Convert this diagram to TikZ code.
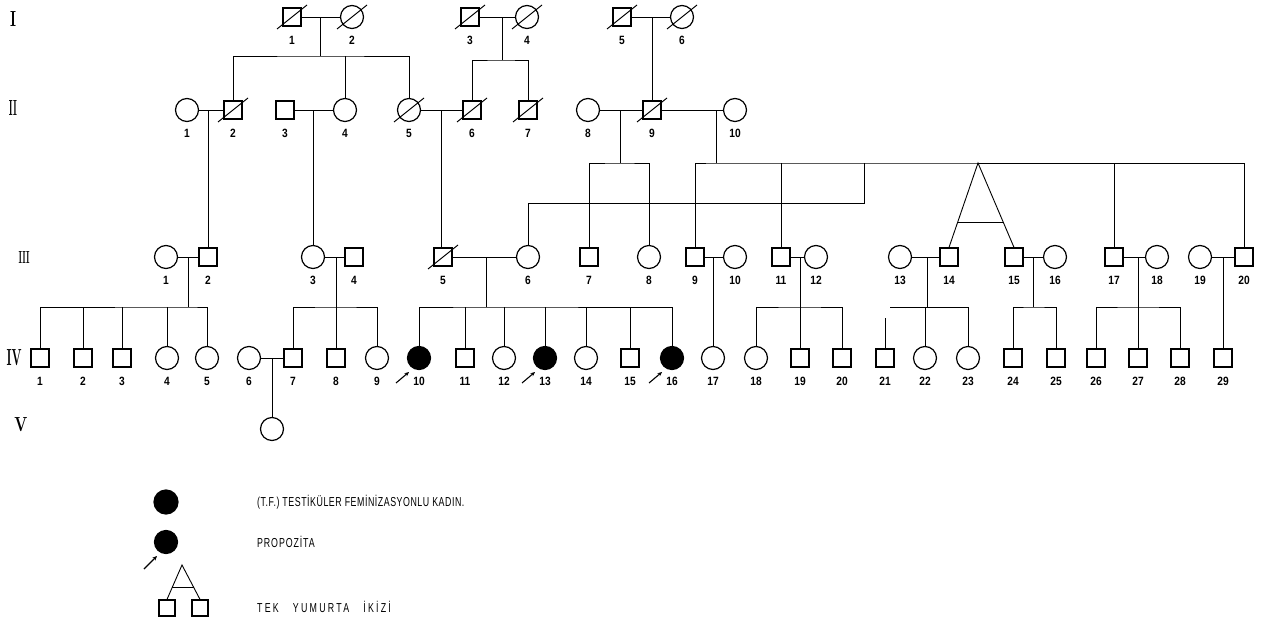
\documentclass[tikz,border=0pt]{standalone}
\usepackage{fontspec}
\setsansfont{Liberation Sans}
\newfontfamily\legfont{Liberation Sans}
\usetikzlibrary{calc,arrows.meta}
\newcommand\mkp[5]{\node[#2] (#1) at (#3,#4) {}; \node[num] (#1n) at (#3,#4+23) {\scalebox{0.85}[1]{#5}};}
\newcommand\mkd[1]{\draw[slash] ([shift={(-15,12)}]#1.center) -- ([shift={(15,-12)}]#1.center);}
\begin{document}
\begin{tikzpicture}[x=1pt,y=-1pt,
  sym/.style={draw,line width=1.2pt,inner sep=0pt},
  sq/.style={sym,rectangle,minimum size=18pt},
  ci/.style={sym,circle,minimum size=23pt},
  af/.style={ci,fill=black},
  num/.style={font=\sffamily\bfseries\fontsize{12}{13}\selectfont,inner sep=0pt},
  ln/.style={line width=0.9pt},
  slash/.style={line width=1pt},
  parr/.style={line width=1.1pt,-{Stealth[length=4.5pt,width=4pt]}},
  gen/.style={inner sep=0pt},
  leg/.style={font=\legfont\fontsize{13}{14}\selectfont,inner sep=0pt,anchor=west}]
\useasboundingbox (0,0) rectangle (1261,621);
% generation labels
\node[gen] (gI) at (13,19) {\resizebox{6pt}{15pt}{\textbf{I}}};
\node[gen] (gII) at (13,108) {\resizebox{8pt}{15pt}{\textbf{II}}};
\node[gen] (gIII) at (24,257) {\resizebox{11pt}{12pt}{\textbf{III}}};
\node[gen] (gIV) at (14,358) {\resizebox{15pt}{16pt}{\textbf{IV}}};
\node[gen] (gV) at (21,425) {\resizebox{13pt}{14pt}{\textbf{V}}};
% Generation I
\mkp{I1}{sq}{292}{17}{1}\mkd{I1}
\mkp{I2}{ci}{352}{17}{2}\mkd{I2}
\mkp{I3}{sq}{470}{17}{3}\mkd{I3}
\mkp{I4}{ci}{527}{17}{4}\mkd{I4}
\mkp{I5}{sq}{622}{17}{5}\mkd{I5}
\mkp{I6}{ci}{682}{17}{6}\mkd{I6}
% Generation II
\mkp{II1}{ci}{187}{110}{1}
\mkp{II2}{sq}{233}{110}{2}\mkd{II2}
\mkp{II3}{sq}{285}{110}{3}
\mkp{II4}{ci}{345}{110}{4}
\mkp{II5}{ci}{409}{110}{5}\mkd{II5}
\mkp{II6}{sq}{472}{110}{6}\mkd{II6}
\mkp{II7}{sq}{528}{110}{7}\mkd{II7}
\mkp{II8}{ci}{588}{110}{8}
\mkp{II9}{sq}{652}{110}{9}\mkd{II9}
\mkp{II10}{ci}{735}{110}{10}
% Generation III
\mkp{III1}{ci}{166}{257}{1}
\mkp{III2}{sq}{208}{257}{2}
\mkp{III3}{ci}{313}{257}{3}
\mkp{III4}{sq}{354}{257}{4}
\mkp{III5}{sq}{443}{257}{5}\mkd{III5}
\mkp{III6}{ci}{528}{257}{6}
\mkp{III7}{sq}{589}{257}{7}
\mkp{III8}{ci}{649}{257}{8}
\mkp{III9}{sq}{695}{257}{9}
\mkp{III10}{ci}{735}{257}{10}
\mkp{III11}{sq}{781}{257}{11}
\mkp{III12}{ci}{816}{257}{12}
\mkp{III13}{ci}{900}{257}{13}
\mkp{III14}{sq}{949}{257}{14}
\mkp{III15}{sq}{1014}{257}{15}
\mkp{III16}{ci}{1055}{257}{16}
\mkp{III17}{sq}{1114}{257}{17}
\mkp{III18}{ci}{1157}{257}{18}
\mkp{III19}{ci}{1200}{257}{19}
\mkp{III20}{sq}{1244}{257}{20}
% Generation IV
\mkp{IV1}{sq}{40}{358}{1}
\mkp{IV2}{sq}{83}{358}{2}
\mkp{IV3}{sq}{122}{358}{3}
\mkp{IV4}{ci}{167}{358}{4}
\mkp{IV5}{ci}{207}{358}{5}
\mkp{IV6}{ci}{249}{358}{6}
\mkp{IV7}{sq}{293}{358}{7}
\mkp{IV8}{sq}{336}{358}{8}
\mkp{IV9}{ci}{377}{358}{9}
\mkp{IV10}{af}{419}{358}{10}
\mkp{IV11}{sq}{465}{358}{11}
\mkp{IV12}{ci}{504}{358}{12}
\mkp{IV13}{af}{545}{358}{13}
\mkp{IV14}{ci}{586}{358}{14}
\mkp{IV15}{sq}{630}{358}{15}
\mkp{IV16}{af}{672}{358}{16}
\mkp{IV17}{ci}{713}{358}{17}
\mkp{IV18}{ci}{756}{358}{18}
\mkp{IV19}{sq}{800}{358}{19}
\mkp{IV20}{sq}{842}{358}{20}
\mkp{IV21}{sq}{885}{358}{21}
\mkp{IV22}{ci}{925}{358}{22}
\mkp{IV23}{ci}{968}{358}{23}
\mkp{IV24}{sq}{1013}{358}{24}
\mkp{IV25}{sq}{1056}{358}{25}
\mkp{IV26}{sq}{1096}{358}{26}
\mkp{IV27}{sq}{1138}{358}{27}
\mkp{IV28}{sq}{1180}{358}{28}
\mkp{IV29}{sq}{1223}{358}{29}
% Generation V
\node[ci] (V1) at (272,429) {};
% ---- connectors: generation I
\draw[ln] (I1) -- (I2);
\coordinate (mI12) at (320,17); \coordinate (sI12) at (320,56);
\draw[ln] (mI12) -- (sI12);
\draw[ln] (II2.north) |- (sI12) -| (II5.north);
\draw[ln] (II4.north) -- (II4.north |- sI12);
\draw[ln] (I3) -- (I4);
\coordinate (mI34) at (502,17); \coordinate (sI34) at (502,60);
\draw[ln] (mI34) -- (sI34);
\draw[ln] (II6.north) |- (sI34) -| (II7.north);
\draw[ln] (I5) -- (I6);
\coordinate (mI56) at (652,17);
\draw[ln] (mI56) -- (II9.north);
% ---- generation II
\draw[ln] (II1) -- (II2);
\coordinate (mII12) at (208,110);
\draw[ln] (mII12) -- (III2.north);
\draw[ln] (II3) -- (II4);
\coordinate (mII34) at (313,110);
\draw[ln] (mII34) -- (III3.north);
\draw[ln] (II5) -- (II6);
\coordinate (mII56) at (441,110);
\draw[ln] (mII56) -- (mII56 |- III5.north);
\draw[ln] (II8) -- (II9);
\coordinate (mII89) at (620,110); \coordinate (sII89) at (620,163);
\draw[ln] (mII89) -- (sII89);
\draw[ln] (III7.north) |- (sII89) -| (III8.north);
\draw[ln] (II9) -- (II10);
\coordinate (mII910) at (716,110); \coordinate (sII910) at (716,163);
\draw[ln] (mII910) -- (sII910);
\draw[ln] (III9.north) |- (sII910) -| (III20.north);
\draw[ln] (III11.north) -- (III11.north |- sII910);
\draw[ln] (III17.north) -- (III17.north |- sII910);
\coordinate (br1) at (864,163); \coordinate (br2) at (864,203);
\draw[ln] (br1) -- (br2) -| (III6.north);
\coordinate (tw) at (978,163);
\draw[ln] (III14.north) -- (tw) -- (III15.north);
\draw[ln] ($(tw)!0.7!(III14.north)$) -- ($(tw)!0.7!(III15.north)$);
% ---- generation III
\draw[ln] (III1) -- (III2);
\coordinate (mIII12) at (188,257); \coordinate (sIII12) at (188,307);
\draw[ln] (mIII12) -- (sIII12);
\draw[ln] (IV1.north) |- (sIII12) -| (IV5.north);
\foreach \k in {IV2,IV3,IV4} \draw[ln] (\k.north) -- (\k.north |- sIII12);
\draw[ln] (III3) -- (III4);
\coordinate (mIII34) at (336,257); \coordinate (sIII34) at (336,307);
\draw[ln] (mIII34) -- (sIII34);
\draw[ln] (IV7.north) |- (sIII34) -| (IV9.north);
\draw[ln] (IV8.north) -- (IV8.north |- sIII34);
\draw[ln] (III5) -- (III6);
\coordinate (mIII56) at (486,257); \coordinate (sIII56) at (486,307);
\draw[ln] (mIII56) -- (sIII56);
\draw[ln] (IV10.north) |- (sIII56) -| (IV16.north);
\foreach \k in {IV11,IV12,IV13,IV14,IV15} \draw[ln] (\k.north) -- (\k.north |- sIII56);
\draw[ln] (III9) -- (III10);
\coordinate (mIII910) at (713,257);
\draw[ln] (mIII910) -- (IV17.north);
\draw[ln] (III11) -- (III12);
\coordinate (mIII1112) at (800,257); \coordinate (sIII1112) at (800,307);
\draw[ln] (mIII1112) -- (sIII1112);
\draw[ln] (IV18.north) |- (sIII1112) -| (IV20.north);
\draw[ln] (IV19.north) -- (IV19.north |- sIII1112);
\draw[ln] (III13) -- (III14);
\coordinate (mIII1314) at (927,257); \coordinate (sIII1314) at (927,307);
\coordinate (sl1314) at (890,307);
\draw[ln] (mIII1314) -- (sIII1314);
\draw[ln] (sl1314) -| (IV23.north);
\draw[ln] (IV22.north) -- (IV22.north |- sIII1314);
\coordinate (t21) at (885,318);
\draw[ln] (t21) -- (IV21.north);
\draw[ln] (III15) -- (III16);
\coordinate (mIII1516) at (1033,257); \coordinate (sIII1516) at (1033,307);
\draw[ln] (mIII1516) -- (sIII1516);
\draw[ln] (IV24.north) |- (sIII1516) -| (IV25.north);
\draw[ln] (III17) -- (III18);
\coordinate (mIII1718) at (1138,257); \coordinate (sIII1718) at (1138,307);
\draw[ln] (mIII1718) -- (sIII1718);
\draw[ln] (IV26.north) |- (sIII1718) -| (IV28.north);
\draw[ln] (IV27.north) -- (IV27.north |- sIII1718);
\draw[ln] (III19) -- (III20);
\coordinate (mIII1920) at (1223,257);
\draw[ln] (mIII1920) -- (IV29.north);
% ---- generation IV
\draw[ln] (IV6) -- (IV7);
\coordinate (mIV67) at (272,358);
\draw[ln] (mIV67) -- (V1.north);
% proband arrows
\foreach \k in {IV10,IV13,IV16}
  \draw[parr] ([shift={(-23,25)}]\k.center) -- ([shift={(-10,14)}]\k.center);
% ---- legend
\node[af,minimum size=24pt] (L1) at (166,502) {};
\node[leg] (T1) at (257,502) {\scalebox{0.68}[1]{\addfontfeature{LetterSpace=6}(T.F.) TESTİKÜLER FEMİNİZASYONLU KADIN.}};
\node[af] (L2) at (166,542) {};
\draw[parr] ([shift={(-22,27)}]L2.center) -- ([shift={(-9,14)}]L2.center);
\node[leg] (T2) at (257,542) {\scalebox{0.68}[1]{\addfontfeature{LetterSpace=10}PROPOZİTA}};
\coordinate (LA) at (182,565);
\node[sq,minimum size=16pt] (LS1) at (167,608) {};
\node[sq,minimum size=16pt] (LS2) at (200,608) {};
\draw[ln] (LS1.north) -- (LA) -- (LS2.north);
\draw[ln] ($(LA)!0.66!(LS1.north)$) -- ($(LA)!0.66!(LS2.north)$);
\node[leg] (T3) at (257,607) {\scalebox{0.68}[1]{\addfontfeature{LetterSpace=25}TEK\hspace{14pt} YUMURTA\hspace{14pt} İKİZİ}};
\end{tikzpicture}
\end{document}
